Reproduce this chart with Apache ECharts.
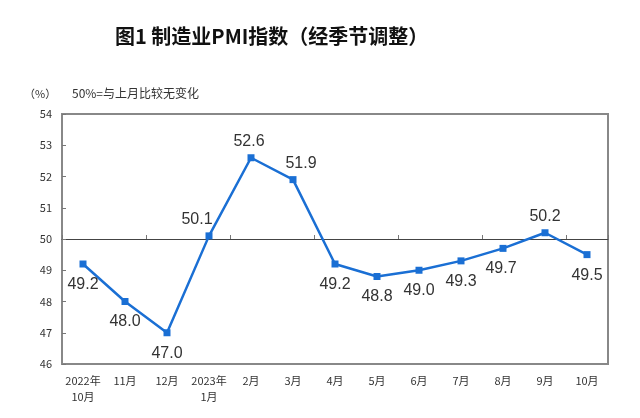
<!DOCTYPE html>
<html>
<head>
<meta charset="utf-8">
<script src="https://cdn.jsdelivr.net/npm/echarts@6/dist/echarts.min.js"></script>
<style>html,body{margin:0;padding:0;background:#fff;}#c{width:640px;height:418px;}</style>
</head>
<body>
<div id="c"></div>
<script>
var categories = ['2022年\n10月','11月','12月','2023年\n1月','2月','3月','4月','5月','6月','7月','8月','9月','10月'];
var pmiValues = [49.2, 48.0, 47.0, 50.1, 52.6, 51.9, 49.2, 48.8, 49.0, 49.3, 49.7, 50.2, 49.5];
var yTicks = [46, 47, 48, 49, 50, 51, 52, 53, 54];

// label placement (style only)
var labelSide = ['bottom','bottom','bottom','top','top','top','bottom','bottom','bottom','bottom','bottom','top','bottom'];
var labelDx = [0,0,0,-12,-2,8,0,0,0,0,-2,0,0];

var chart = echarts.init(document.getElementById('c'));
var cjk = '"Noto Sans CJK SC", sans-serif';
var GL = 62, GT = 114, GW = 546, GH = 250;

var data = pmiValues.map(function (v, i) {
  return {
    value: v,
    label: {
      position: labelSide[i],
      distance: labelSide[i] === 'top' ? 5 : 9,
      offset: [labelDx[i], 0]
    }
  };
});

chart.setOption({
  animation: false,
  backgroundColor: '#fff',
  title: {
    text: '图1 制造业PMI指数（经季节调整）',
    left: 110, top: 21,
    textStyle: { fontFamily: cjk, fontSize: 20, fontWeight: 'bold', color: '#111' }
  },
  graphic: [
    { type: 'text', left: 24, top: 88, style: { text: '（%）', font: '11px ' + cjk, fill: '#333' } },
    { type: 'text', left: 72, top: 87, style: { text: '50%=与上月比较无变化', font: '12px ' + cjk, fill: '#333' } }
  ],
  grid: [
    { left: GL, top: GT, width: GW, height: GH, show: true, borderColor: '#888', borderWidth: 2, containLabel: false },
    { left: GL, top: GT, width: GW, height: GH / 2, show: false, containLabel: false }
  ],
  xAxis: [
    {
      type: 'category', gridIndex: 0, data: categories, boundaryGap: true,
      axisLine: { show: false }, axisTick: { show: false },
      axisLabel: { margin: 9, fontSize: 11, lineHeight: 16, color: '#333', fontFamily: cjk, interval: 0 }
    },
    {
      type: 'category', gridIndex: 1, data: categories, boundaryGap: true, position: 'bottom',
      axisLine: { show: true, lineStyle: { color: '#444', width: 1 } },
      axisTick: { show: true, inside: true, length: 4, lineStyle: { color: '#777' } },
      axisLabel: { show: false }
    }
  ],
  yAxis: [
    {
      type: 'value', gridIndex: 0, min: yTicks[0], max: yTicks[yTicks.length - 1], interval: 1,
      axisLine: { show: false },
      axisTick: { show: true, inside: true, length: 4, lineStyle: { color: '#777' } },
      splitLine: { show: false },
      axisLabel: { margin: 10, fontSize: 11, color: '#333', fontFamily: cjk }
    },
    {
      type: 'value', gridIndex: 1, min: 50, max: 54, show: false, splitLine: { show: false }
    }
  ],
  series: [
    {
      type: 'line', xAxisIndex: 0, yAxisIndex: 0, data: data,
      symbol: 'rect', symbolSize: 7, showAllSymbol: true,
      lineStyle: { color: '#1a6fd4', width: 2.5 },
      itemStyle: { color: '#1a6fd4' },
      label: {
        show: true, fontSize: 16, color: '#333', fontFamily: 'Liberation Sans, Arial, sans-serif',
        formatter: function (p) { return p.value.toFixed(1); }
      }
    }
  ]
});
</script>
</body>
</html>
